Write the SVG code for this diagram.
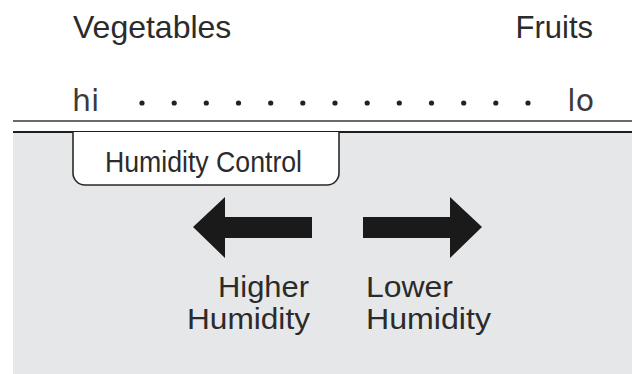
<svg xmlns="http://www.w3.org/2000/svg" width="632" height="374" viewBox="0 0 632 374">
  <style>
    .lbl { font-family: "Liberation Sans", Arial, sans-serif; fill: #2b2b2b; }
    .scale { font-family: "DejaVu Sans", "Open Sans", sans-serif; fill: #3a3a3a; font-size: 30px; }
    .arrow { fill: #1a1a1a; }
    .dot { fill: #222; }
  </style>
  <rect x="0" y="0" width="632" height="374" fill="#ffffff"/>
  <rect id="panel" x="13" y="132" width="619" height="242" fill="#e6e7e8"/>
  <g id="header">
    <text class="lbl" x="73" y="38" font-size="32">Vegetables</text>
    <text class="lbl" x="593" y="38" font-size="31" text-anchor="end">Fruits</text>
  </g>
  <g id="scale">
    <text class="scale" x="72" y="111">hi</text>
    <text class="scale" x="594" y="111" text-anchor="end">lo</text>
    <g class="dot">
      <circle cx="142" cy="103" r="2.6"/>
      <circle cx="174.2" cy="103" r="2.6"/>
      <circle cx="206.3" cy="103" r="2.6"/>
      <circle cx="238.5" cy="103" r="2.6"/>
      <circle cx="270.7" cy="103" r="2.6"/>
      <circle cx="302.8" cy="103" r="2.6"/>
      <circle cx="335" cy="103" r="2.6"/>
      <circle cx="367.2" cy="103" r="2.6"/>
      <circle cx="399.3" cy="103" r="2.6"/>
      <circle cx="431.5" cy="103" r="2.6"/>
      <circle cx="463.7" cy="103" r="2.6"/>
      <circle cx="495.8" cy="103" r="2.6"/>
      <circle cx="528" cy="103" r="2.6"/>
    </g>
  </g>
  <g id="lines">
    <line x1="13" y1="121" x2="632" y2="121" stroke="#6a6a6a" stroke-width="2"/>
    <line x1="13" y1="132" x2="632" y2="132" stroke="#1e1e1e" stroke-width="2"/>
  </g>
  <g id="humidity-control">
    <path d="M73,132 V173 A12,12 0 0 0 85,185 H327 A12,12 0 0 0 339,173 V132" fill="#ffffff" stroke="#2a2a2a" stroke-width="1.6"/>
    <text class="lbl" x="105" y="172" font-size="29" textLength="197" lengthAdjust="spacingAndGlyphs">Humidity Control</text>
  </g>
  <g id="connectors">
    <polygon class="arrow" points="193,227 225,197 225,217 312,217 312,238 225,238 225,258"/>
    <polygon class="arrow" points="482,227 450,197 450,217 363,217 363,238 450,238 450,258"/>
  </g>
  <g id="higher">
    <text class="lbl" x="309" y="297" font-size="30" text-anchor="end" textLength="91" lengthAdjust="spacingAndGlyphs">Higher</text>
    <text class="lbl" x="310" y="329" font-size="30" text-anchor="end" textLength="123" lengthAdjust="spacingAndGlyphs">Humidity</text>
  </g>
  <g id="lower">
    <text class="lbl" x="366" y="297" font-size="30" textLength="87" lengthAdjust="spacingAndGlyphs">Lower</text>
    <text class="lbl" x="366" y="329" font-size="30" textLength="125" lengthAdjust="spacingAndGlyphs">Humidity</text>
  </g>
</svg>
